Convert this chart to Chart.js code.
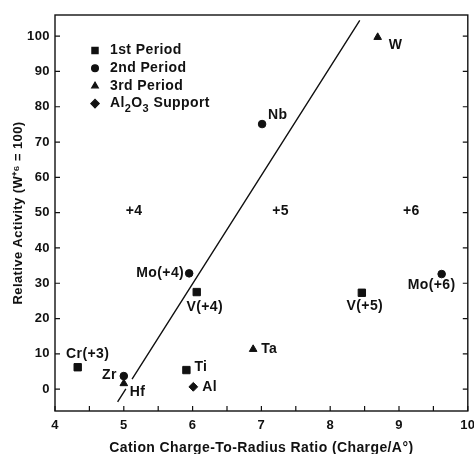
<!DOCTYPE html>
<html>
<head>
<meta charset="utf-8">
<script src="https://cdn.jsdelivr.net/npm/chart.js@4.4.1/dist/chart.umd.min.js"></script>
<style>
  html, body { margin: 0; padding: 0; background: #fff; }
  canvas { display: block; }
</style>
</head>
<body>
<canvas id="chart" width="474" height="454"></canvas>
<script>
// Relative activity vs cation charge-to-radius ratio

const firstPeriodNames = ['Cr(+3)', 'Ti', 'V(+4)', 'V(+5)'];
const firstPeriodX = [4.33, 5.91, 6.06, 8.46];
const firstPeriodY = [6.2, 5.4, 27.5, 27.3];

const secondPeriodNames = ['Zr', 'Mo(+4)', 'Nb', 'Mo(+6)'];
const secondPeriodX = [5.0, 5.95, 7.01, 9.62];
const secondPeriodY = [3.7, 32.8, 75.1, 32.6];

const thirdPeriodNames = ['Hf', 'Ta', 'W'];
const thirdPeriodX = [5.0, 6.88, 8.69];
const thirdPeriodY = [1.6, 11.3, 99.7];

const supportNames = ['Al'];
const supportX = [6.01];
const supportY = [0.65];

// correlation line, broken just below Hf
const fitLineX = [4.91, 5.03, 5.08, 5.12, 8.43];
const fitLineY = [-3.6, 0.1, null, 2.8, 104.5];

const chargeLabels = ['+4', '+5', '+6'];
const chargeX = [5.15, 7.28, 9.18];
const chargeY = [50.5, 50.5, 50.5];

const xTickValues = [4, 4.5, 5, 5.5, 6, 6.5, 7, 7.5, 8, 8.5, 9, 9.5, 10];
const yTickValues = [0, 10, 20, 30, 40, 50, 60, 70, 80, 90, 100];

const FONT = '"Liberation Sans", Arial, Helvetica, sans-serif';
const INK = '#111';

// where each point's name sits: [dx, dy, align]
const labelPlacement = {
  'Cr(+3)': [10, -13, 'center'],
  'Ti': [8, -3, 'left'],
  'V(+4)': [8, 15, 'center'],
  'V(+5)': [3, 13, 'center'],
  'Zr': [-7, -1, 'right'],
  'Mo(+4)': [-5, 0, 'right'],
  'Nb': [6, -9, 'left'],
  'Mo(+6)': [-10, 11, 'center'],
  'Hf': [6, 9, 'left'],
  'Ta': [8, 0, 'left'],
  'W': [11, 8, 'left'],
  'Al': [9, 0, 'left']
};

function toPoints(xs, ys) {
  return xs.map((x, i) => ({ x: x, y: ys[i] }));
}

// text with unicode subscript digits drawn as lowered small digits
function drawSubText(ctx, text, x, y, size) {
  const subs = '₀₁₂₃₄₅₆₇₈₉';
  let cx = x;
  for (const ch of text) {
    const k = subs.indexOf(ch);
    if (k >= 0) {
      ctx.font = 'bold ' + Math.round(size * 0.75) + 'px ' + FONT;
      ctx.fillText(String(k), cx, y + size * 0.35);
      cx += ctx.measureText(String(k)).width;
    } else {
      ctx.font = 'bold ' + size + 'px ' + FONT;
      ctx.fillText(ch, cx, y);
      cx += ctx.measureText(ch).width;
    }
  }
}

// the scanned figure uses a slightly loose typeface
const looseText = {
  id: 'looseText',
  beforeDraw(chart) {
    chart.ctx.letterSpacing = '0.4px';
  }
};

const annotations = {
  id: 'annotations',
  afterDatasetsDraw(chart) {
    const ctx = chart.ctx;
    const area = chart.chartArea;
    const xs = chart.scales.x;
    const ys = chart.scales.y;
    ctx.save();

    // frame
    ctx.strokeStyle = INK;
    ctx.lineWidth = 1.4;
    ctx.strokeRect(area.left, area.top, area.right - area.left, area.bottom - area.top);

    // inward tick marks
    ctx.lineWidth = 1.2;
    ctx.beginPath();
    xs.ticks.forEach(t => {
      const px = xs.getPixelForValue(t.value);
      ctx.moveTo(px, area.bottom);
      ctx.lineTo(px, area.bottom - 5);
    });
    ys.ticks.forEach(t => {
      const py = ys.getPixelForValue(t.value);
      ctx.moveTo(area.left, py);
      ctx.lineTo(area.left + 5, py);
      ctx.moveTo(area.right, py);
      ctx.lineTo(area.right - 5, py);
    });
    ctx.stroke();

    // point names
    ctx.fillStyle = INK;
    ctx.font = 'bold 14px ' + FONT;
    ctx.textBaseline = 'middle';
    chart.data.datasets.forEach((ds, di) => {
      if (!ds.names) return;
      const meta = chart.getDatasetMeta(di);
      ds.names.forEach((name, i) => {
        const el = meta.data[i];
        const p = labelPlacement[name] || [8, 0, 'left'];
        ctx.textAlign = p[2];
        ctx.fillText(name, el.x + p[0], el.y + p[1]);
      });
    });

    // oxidation state labels
    ctx.textAlign = 'center';
    chargeLabels.forEach((txt, i) => {
      ctx.fillText(txt, xs.getPixelForValue(chargeX[i]), ys.getPixelForValue(chargeY[i]));
    });

    // legend
    ctx.textAlign = 'left';
    let row = 0;
    chart.data.datasets.forEach(ds => {
      if (!ds.names) return;
      const ly = area.top + 35.5 + row * 17.7;
      ctx.fillStyle = INK;
      ctx.strokeStyle = INK;
      Chart.helpers.drawPoint(ctx, {
        pointStyle: ds.pointStyle,
        radius: ds.legendRadius,
        rotation: 0,
        borderWidth: 1
      }, area.left + 40, ly);
      drawSubText(ctx, ds.label, area.left + 55, ly, 14);
      row++;
    });

    ctx.restore();
  }
};

const markerBase = {
  backgroundColor: INK,
  borderColor: INK,
  borderWidth: 1
};

new Chart(document.getElementById('chart'), {
  type: 'scatter',
  data: {
    datasets: [
      {
        ...markerBase,
        label: '1st Period',
        names: firstPeriodNames,
        data: toPoints(firstPeriodX, firstPeriodY),
        pointStyle: 'rect',
        pointRadius: 5.2,
        legendRadius: 4.4
      },
      {
        ...markerBase,
        label: '2nd Period',
        names: secondPeriodNames,
        data: toPoints(secondPeriodX, secondPeriodY),
        pointStyle: 'circle',
        pointRadius: 3.8,
        legendRadius: 3.4
      },
      {
        ...markerBase,
        label: '3rd Period',
        names: thirdPeriodNames,
        data: toPoints(thirdPeriodX, thirdPeriodY),
        pointStyle: 'triangle',
        pointRadius: 4.4,
        legendRadius: 3.8
      },
      {
        ...markerBase,
        label: 'Al₂O₃ Support',
        names: supportNames,
        data: toPoints(supportX, supportY),
        pointStyle: 'rectRot',
        pointRadius: 4.4,
        legendRadius: 4.2
      },
      {
        label: 'fit',
        data: toPoints(fitLineX, fitLineY),
        showLine: true,
        spanGaps: false,
        borderColor: INK,
        borderWidth: 1.4,
        pointRadius: 0
      }
    ]
  },
  options: {
    responsive: false,
    animation: false,
    layout: { padding: { left: 0, right: 3, top: 15, bottom: 0 } },
    plugins: {
      legend: { display: false },
      tooltip: { enabled: false }
    },
    scales: {
      x: {
        type: 'linear',
        min: 4,
        max: 10,
        grid: { display: false, drawTicks: false },
        border: { display: false },
        afterBuildTicks: s => { s.ticks = xTickValues.map(v => ({ value: v })); },
        afterFit: s => { s.height = 43; s.paddingLeft = 0; s.paddingRight = 0; },
        ticks: {
          autoSkip: false,
          maxRotation: 0,
          padding: 7,
          color: INK,
          font: { family: FONT, size: 13, weight: 'bold' },
          callback: v => Number.isInteger(v) ? String(v) : ''
        },
        title: {
          display: true,
          text: 'Cation Charge-To-Radius Ratio (Charge/A°)',
          color: INK,
          padding: { top: 0, bottom: -3 },
          font: { family: FONT, size: 14, weight: 'bold' }
        }
      },
      y: {
        type: 'linear',
        min: -6.2,
        max: 106,
        grid: { display: false, drawTicks: false },
        border: { display: false },
        afterBuildTicks: s => { s.ticks = yTickValues.map(v => ({ value: v })); },
        afterFit: s => { s.width = 55; s.paddingTop = 0; s.paddingBottom = 0; },
        ticks: {
          autoSkip: false,
          padding: 5,
          color: INK,
          font: { family: FONT, size: 13, weight: 'bold' }
        },
        title: {
          display: true,
          text: 'Relative Activity (W⁺⁶ = 100)',
          color: INK,
          padding: { top: 11, bottom: 0 },
          font: { family: FONT, size: 13, weight: 'bold' }
        }
      }
    }
  },
  plugins: [looseText, annotations]
});
</script>
</body>
</html>
